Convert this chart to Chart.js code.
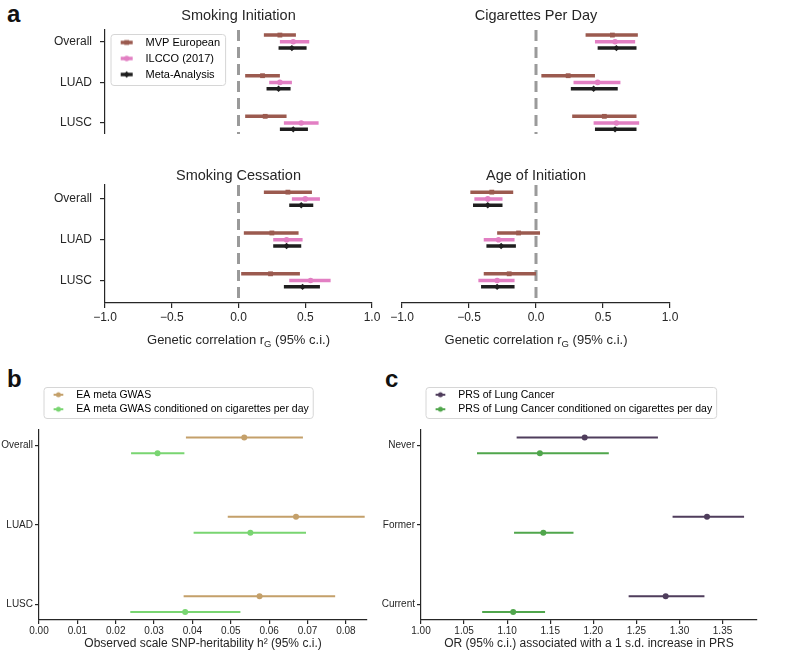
<!DOCTYPE html>
<html>
<head>
<meta charset="utf-8">
<script src="https://cdn.jsdelivr.net/npm/chart.js@4.4.1/dist/chart.umd.min.js"></script>
<style>
  html, body { margin: 0; padding: 0; background: #fff; }
  #fig { position: relative; width: 800px; height: 651px; overflow: hidden; font-family: "Liberation Sans", Arial, sans-serif; }
  #fig canvas { position: absolute; }
  .letter { position: absolute; font-weight: bold; font-size: 24px; line-height: 1; color: #111; }
</style>
</head>
<body>
<div id="fig">
  <div class="letter" style="left:7px; top:1.5px">a</div>
  <div class="letter" style="left:7px; top:366.5px">b</div>
  <div class="letter" style="left:385px; top:366.5px">c</div>
  <canvas id="si" width="395" height="134" style="left:0px; top:0px"></canvas>
  <canvas id="cpd" width="308" height="134" style="left:382px; top:0px"></canvas>
  <canvas id="sc" width="395" height="190" style="left:0px; top:160px"></canvas>
  <canvas id="aoi" width="308" height="190" style="left:382px; top:160px"></canvas>
  <canvas id="h2" width="380" height="271" style="left:0px; top:380px"></canvas>
  <canvas id="prs" width="430" height="271" style="left:370px; top:380px"></canvas>
</div>
<script>
// ---- panel a: genetic correlation, [lower, estimate, upper] per row ----
const rowsA = ["Overall", "LUAD", "LUSC"];
const seriesA = ["MVP European", "ILCCO (2017)", "Meta-Analysis"];
const siMvp = [[0.19, 0.31, 0.43], [0.05, 0.18, 0.31], [0.05, 0.20, 0.36]];
const siIlcco = [[0.31, 0.41, 0.53], [0.23, 0.31, 0.40], [0.34, 0.47, 0.60]];
const siMeta = [[0.30, 0.40, 0.51], [0.21, 0.30, 0.39], [0.31, 0.41, 0.52]];
const cpdMvp = [[0.37, 0.57, 0.76], [0.04, 0.24, 0.44], [0.27, 0.51, 0.75]];
const cpdIlcco = [[0.44, 0.59, 0.74], [0.28, 0.46, 0.63], [0.43, 0.60, 0.77]];
const cpdMeta = [[0.46, 0.60, 0.75], [0.26, 0.43, 0.61], [0.44, 0.59, 0.75]];
const scMvp = [[0.19, 0.37, 0.55], [0.04, 0.25, 0.45], [0.02, 0.24, 0.46]];
const scIlcco = [[0.40, 0.50, 0.61], [0.26, 0.36, 0.48], [0.38, 0.54, 0.69]];
const scMeta = [[0.38, 0.47, 0.56], [0.26, 0.36, 0.47], [0.34, 0.48, 0.61]];
const aoiMvp = [[-0.49, -0.33, -0.17], [-0.29, -0.13, 0.03], [-0.39, -0.20, 0.00]];
const aoiIlcco = [[-0.46, -0.36, -0.25], [-0.39, -0.28, -0.16], [-0.43, -0.29, -0.16]];
const aoiMeta = [[-0.47, -0.36, -0.25], [-0.37, -0.26, -0.15], [-0.41, -0.29, -0.16]];
const ticksA = [-1.0, -0.5, 0.0, 0.5, 1.0];

// ---- panel b: SNP heritability ----
const rowsB = ["Overall", "LUAD", "LUSC"];
const seriesB = ["EA meta GWAS", "EA meta GWAS conditioned on cigarettes per day"];
const h2Ea = [[0.0383, 0.0535, 0.0688], [0.0492, 0.0670, 0.0849], [0.0377, 0.0575, 0.0772]];
const h2Cond = [[0.0240, 0.0309, 0.0379], [0.0403, 0.0551, 0.0696], [0.0238, 0.0381, 0.0525]];
const ticksB = [0, 0.01, 0.02, 0.03, 0.04, 0.05, 0.06, 0.07, 0.08];

// ---- panel c: PRS odds ratios ----
const rowsC = ["Never", "Former", "Current"];
const seriesC = ["PRS of Lung Cancer", "PRS of Lung Cancer conditioned on cigarettes per day"];
const orPrs = [[1.111, 1.190, 1.275], [1.292, 1.332, 1.375], [1.241, 1.284, 1.329]];
const orCond = [[1.065, 1.138, 1.218], [1.108, 1.142, 1.177], [1.071, 1.107, 1.144]];
const ticksC = [1.00, 1.05, 1.10, 1.15, 1.20, 1.25, 1.30, 1.35];

const ink = "#262626";
Chart.defaults.font.family = "'Liberation Sans', Arial, Helvetica, sans-serif";
Chart.defaults.color = ink;

const styleA = [
  { color: "#9b5a4f", marker: "rect", radius: 3.4, width: 3.5 },
  { color: "#e27fc3", marker: "circle", radius: 2.8, width: 3.5 },
  { color: "#1e1e1e", marker: "rectRot", radius: 3.2, width: 3.5 },
];
const offsetsA = [-0.165, 0, 0.155];
const styleB = [
  { color: "#c4a06a", marker: "circle", radius: 3, width: 2 },
  { color: "#79d571", marker: "circle", radius: 3, width: 2 },
];
const styleC = [
  { color: "#4f3d5c", marker: "circle", radius: 3, width: 2 },
  { color: "#50a64c", marker: "circle", radius: 3, width: 2 },
];
const offsetsBC = [-0.1, 0.1];

function rowPoints(rows, offset) {
  const pts = [];
  rows.forEach((r, i) => {
    const y = i + offset;
    pts.push({ x: r[0], y: y }, { x: r[1], y: y, mark: true }, { x: r[2], y: y }, { x: r[2], y: null });
  });
  return pts;
}

function forestDataset(rows, offset, st) {
  const rad = (c) => (c.raw && c.raw.mark ? st.radius : 0);
  return {
    data: rowPoints(rows, offset),
    showLine: true,
    spanGaps: false,
    borderColor: st.color,
    borderWidth: st.width,
    borderCapStyle: "butt",
    pointStyle: st.marker,
    pointRadius: rad,
    pointHoverRadius: rad,
    pointBackgroundColor: st.color,
    pointBorderColor: st.color,
    pointBorderWidth: 0,
  };
}

function zeroLine(yMin, yMax) {
  return {
    data: [{ x: 0, y: yMin }, { x: 0, y: yMax }],
    showLine: true,
    borderColor: "#9a9a9a",
    borderWidth: 3,
    borderDash: [11, 6],
    pointRadius: 0,
  };
}

function legendIcon(st, w, x0, x1, lw, r) {
  const c = document.createElement("canvas");
  c.width = w;
  c.height = 12;
  const g = c.getContext("2d");
  g.strokeStyle = st.color;
  g.fillStyle = st.color;
  g.lineWidth = lw;
  g.beginPath();
  g.moveTo(x0, 6);
  g.lineTo(x1, 6);
  g.stroke();
  const m = (x0 + x1) / 2;
  g.beginPath();
  if (st.marker === "rect") {
    const s = r * Math.SQRT1_2;
    g.rect(m - s, 6 - s, 2 * s, 2 * s);
  } else if (st.marker === "rectRot") {
    g.moveTo(m, 6 - r); g.lineTo(m + r, 6); g.lineTo(m, 6 + r); g.lineTo(m - r, 6); g.closePath();
  } else {
    g.arc(m, 6, r, 0, Math.PI * 2);
  }
  g.fill();
  return c;
}

function legendOpts(names, styles, o) {
  return {
    display: true,
    position: o.position,
    align: "start",
    fullSize: false,
    labels: {
      usePointStyle: true,
      pointStyleWidth: o.iconW,
      font: { size: o.fontSize },
      padding: o.padding,
      color: ink,
      generateLabels: () => names.map((n, i) => ({
        text: n,
        datasetIndex: i,
        hidden: false,
        lineWidth: 0,
        fillStyle: styles[i].color,
        strokeStyle: styles[i].color,
        pointStyle: legendIcon(styles[i], o.iconW, o.x0, o.x1, o.lineW, o.markR || styles[i].radius),
      })),
    },
  };
}

// light rounded frame behind the legend entries
const legendFrame = {
  id: "legendFrame",
  beforeDraw(chart, args, opts) {
    const lg = chart.legend;
    if (!lg || !lg.options.display) return;
    const hb = lg.legendHitBoxes;
    if (!hb || !hb.length) return;
    let l, t, r, b;
    if (lg.options.position === "chartArea") {
      // in-axes legend: put it just under the top of the plot area
      const pad = lg.options.labels.padding;
      const h = lg.height;
      lg.top = chart.chartArea.top + (opts.shift || 0);
      lg.bottom = lg.top + h;
      l = lg.left + pad;
      t = lg.top + pad;
      r = l + Math.max(...hb.map((x) => x.width));
      b = t + hb.reduce((s, x) => s + x.height, 0) + pad * (hb.length - 1);
    } else {
      l = Math.min(...hb.map((x) => x.left));
      t = Math.min(...hb.map((x) => x.top));
      r = Math.max(...hb.map((x) => x.left + x.width));
      b = Math.max(...hb.map((x) => x.top + x.height));
    }
    l += opts.l; t -= opts.t; r += opts.r; b += opts.b;
    const ctx = chart.ctx;
    ctx.save();
    ctx.beginPath();
    ctx.roundRect(l + 0.5, t + 0.5, r - l, b - t, 3);
    ctx.fillStyle = "rgba(255,255,255,0.85)";
    ctx.fill();
    ctx.strokeStyle = "#d6d6d6";
    ctx.lineWidth = 1;
    ctx.stroke();
    ctx.restore();
  },
};

// x-axis title with subscript G
const rgAxisTitle = {
  id: "rgAxisTitle",
  afterDraw(chart) {
    const { ctx, chartArea } = chart;
    const fam = "'Liberation Sans', Arial, sans-serif";
    const parts = [["Genetic correlation r", 13, 0], ["G", 9.5, 3], [" (95% c.i.)", 13, 0]];
    ctx.save();
    ctx.fillStyle = ink;
    ctx.textBaseline = "alphabetic";
    ctx.textAlign = "left";
    let total = 0;
    const widths = parts.map((p) => {
      ctx.font = p[1] + "px " + fam;
      const w = ctx.measureText(p[0]).width;
      total += w;
      return w;
    });
    let x = (chartArea.left + chartArea.right) / 2 - total / 2;
    const base = chartArea.bottom + 41;
    parts.forEach((p, i) => {
      ctx.font = p[1] + "px " + fam;
      ctx.fillText(p[0], x, base + p[2]);
      x += widths[i];
    });
    ctx.restore();
  },
};

function catAxis(rows, yMin, yMax, o) {
  return {
    type: "linear",
    reverse: true,
    min: yMin,
    max: yMax,
    display: o.show,
    afterBuildTicks: (ax) => { ax.ticks = rows.map((_, i) => ({ value: i })); },
    afterFit: (ax) => {
      if (o.show && o.width) ax.width = o.width;
      ax.paddingTop = 0;
      ax.paddingBottom = 0;
    },
    ticks: { callback: (v) => rows[v], font: { size: o.fontSize }, padding: o.pad, color: ink, autoSkip: false },
    grid: { display: true, drawOnChartArea: false, drawTicks: true, tickLength: o.tl, color: ink, lineWidth: 1.2 },
    border: { display: true, color: ink, width: 1.2 },
  };
}

function valAxis(tickVals, min, max, o) {
  return {
    type: "linear",
    min: min,
    max: max,
    display: o.show,
    afterBuildTicks: (ax) => { ax.ticks = tickVals.map((v) => ({ value: v })); },
    afterFit: (ax) => { if (o.show && o.height) ax.height = o.height; },
    ticks: { callback: o.fmt, font: { size: o.fontSize }, padding: o.pad, color: ink, maxRotation: 0, autoSkip: false },
    grid: { display: true, drawOnChartArea: false, drawTicks: true, tickLength: o.tl, color: ink, lineWidth: 1.2 },
    border: { display: true, color: ink, width: 1.2 },
    title: o.title
      ? { display: true, text: o.title, font: { size: 12 }, padding: { top: 0, bottom: 0 }, color: ink }
      : { display: false },
  };
}

function titleOpts(text, pt, pb) {
  return { display: true, text: text, fullSize: false, font: { size: 14.5, weight: "normal" }, color: ink, padding: { top: pt, bottom: pb } };
}

const fmtA = (v) => (v < 0 ? "\u2212" + Math.abs(v).toFixed(1) : v.toFixed(1));
const fmt2 = (v) => v.toFixed(2);

const topY = [-0.29, 2.27];
const botY = [-0.34, 2.55];

function panelA(id, title, sets, yRange, showY, showX, padding, extra) {
  const plugins = [legendFrame];
  if (showX) plugins.push(rgAxisTitle);
  return new Chart(document.getElementById(id), {
    type: "scatter",
    data: {
      datasets: [
        forestDataset(sets[0], offsetsA[0], styleA[0]),
        forestDataset(sets[1], offsetsA[1], styleA[1]),
        forestDataset(sets[2], offsetsA[2], styleA[2]),
        zeroLine(yRange[0], yRange[1]),
      ],
    },
    options: {
      responsive: false,
      animation: false,
      events: [],
      layout: { padding: padding },
      scales: {
        x: valAxis(ticksA, -1, 1, { show: showX, height: 47, fmt: fmtA, fontSize: 12, pad: 2, tl: 5 }),
        y: catAxis(rowsA, yRange[0], yRange[1], { show: showY, width: 105, fontSize: 12, pad: 8, tl: 5 }),
      },
      plugins: {
        title: titleOpts(title, extra.pt, extra.pb),
        legend: extra.legend
          ? legendOpts(seriesA, styleA, { position: "chartArea", iconW: 30, x0: 10.7, x1: 22.7, lineW: 3.5, fontSize: 11, padding: 5 })
          : { display: false },
        legendFrame: { l: 0.5, t: 3, r: 5, b: 5, shift: 2 },
        tooltip: { enabled: false },
      },
    },
    plugins: plugins,
  });
}

panelA("si", "Smoking Initiation", [siMvp, siIlcco, siMeta], topY, true, false, { right: 23 }, { pt: 7.3, pb: 5.3, legend: true });
panelA("cpd", "Cigarettes Per Day", [cpdMvp, cpdIlcco, cpdMeta], topY, false, false, { left: 20, right: 20 }, { pt: 7.3, pb: 5.3 });
panelA("sc", "Smoking Cessation", [scMvp, scIlcco, scMeta], botY, true, true, { right: 23 }, { pt: 7, pb: 0.6 });
panelA("aoi", "Age of Initiation", [aoiMvp, aoiIlcco, aoiMeta], botY, false, true, { left: 20, right: 20 }, { pt: 7, pb: 0.6 });

function panelBC(id, rows, names, styles, sets, xTicks, xMin, xMax, xTitle, yWidth, padding) {
  return new Chart(document.getElementById(id), {
    type: "scatter",
    data: {
      datasets: [
        forestDataset(sets[0], offsetsBC[0], styles[0]),
        forestDataset(sets[1], offsetsBC[1], styles[1]),
      ],
    },
    options: {
      responsive: false,
      animation: false,
      events: [],
      layout: { padding: padding },
      scales: {
        x: valAxis(xTicks, xMin, xMax, { show: true, height: 31, fmt: fmt2, fontSize: 10, pad: 1, tl: 4, title: xTitle }),
        y: catAxis(rows, -0.2, 2.2, { show: true, width: yWidth, fontSize: 10, pad: 2, tl: 4 }),
      },
      plugins: {
        title: { display: false },
        // thin spacer between the legend and the axes
        subtitle: { display: true, text: " ", fullSize: false, weight: 500, font: { size: 4, lineHeight: 1 }, padding: { top: 0, bottom: 1 } },
        legend: legendOpts(names, styles, { position: "top", iconW: 28, x0: 10.6, x1: 20.3, lineW: 2, markR: 2.5, fontSize: 10.5, padding: 4 }),
        legendFrame: { l: 0.5, t: 2.5, r: 4, b: 3.5 },
        tooltip: { enabled: false },
      },
    },
    plugins: [legendFrame],
  });
}

panelBC("h2", rowsB, seriesB, styleB, [h2Ea, h2Cond], ticksB, 0, 0.0855,
  "Observed scale SNP-heritability h\u00b2 (95% c.i.)", 39, { top: 5.5, right: 13 });
panelBC("prs", rowsC, seriesC, styleC, [orPrs, orCond], ticksC, 1.0, 1.39,
  "OR (95% c.i.) associated with a 1 s.d. increase in PRS", 51, { top: 5.5, right: 43 });
</script>
</body>
</html>
